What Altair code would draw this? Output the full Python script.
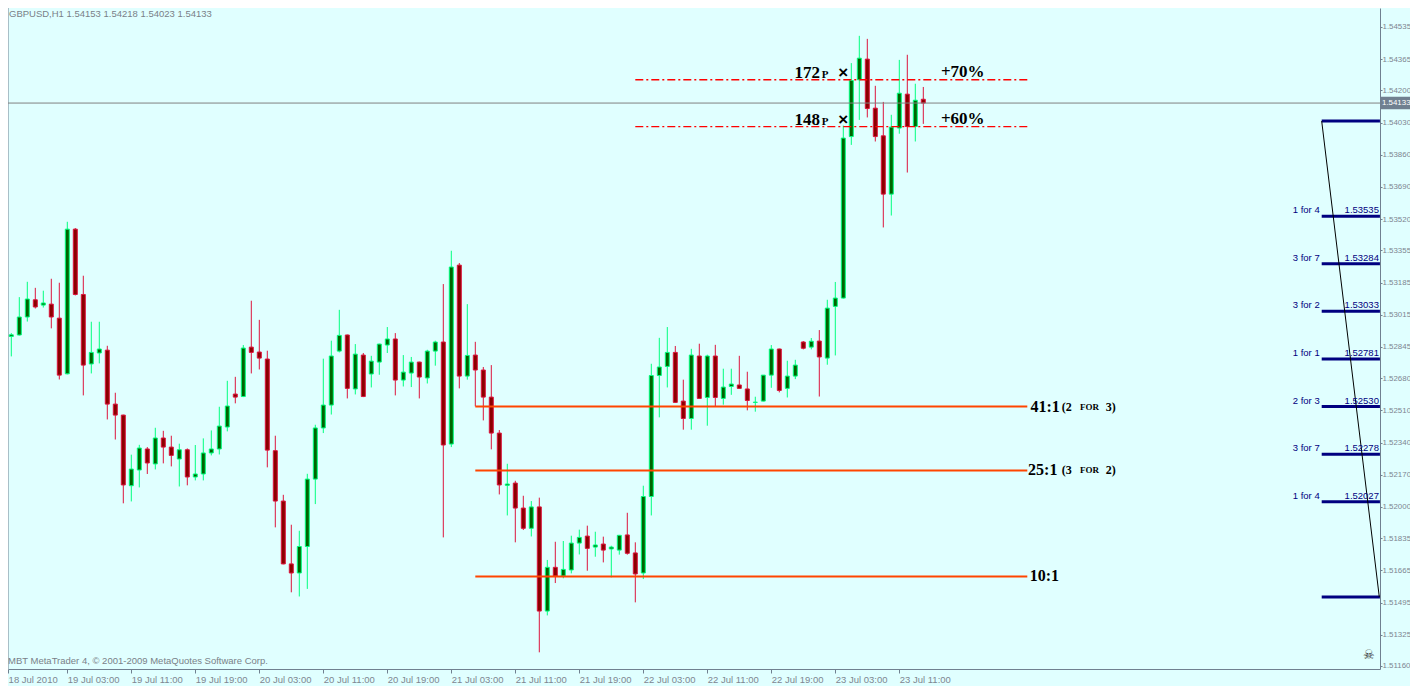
import altair as alt
import pandas as pd

# ---------------- data ----------------
opens = [
    1.53006, 1.52900, 1.52908, 1.53003, 1.53094, 1.53066, 1.53071, 1.52997, 1.52703, 1.53467,
    1.53122, 1.52755, 1.52813, 1.52828, 1.52543, 1.52485, 1.52112, 1.52195, 1.52306, 1.52227,
    1.52364, 1.52316, 1.52253, 1.52302, 1.52158, 1.52174, 1.52285, 1.52306, 1.52422, 1.52596,
    1.52583, 1.52844, 1.52818, 1.52781, 1.52297, 1.52031, 1.51699, 1.51651, 1.51791, 1.52147,
    1.52417, 1.52538, 1.52823, 1.52908, 1.52623, 1.52802, 1.52702, 1.52765, 1.52855, 1.52887,
    1.52670, 1.52707, 1.52765, 1.52681, 1.52823, 1.52871, 1.52332, 1.53277, 1.52691, 1.52802,
    1.52723, 1.52580, 1.52390, 1.52114, 1.52126, 1.51994, 1.51887, 1.52000, 1.51450, 1.51681,
    1.51635, 1.51667, 1.51809, 1.51846, 1.51788, 1.51804, 1.51778, 1.51772, 1.51852, 1.51757,
    1.51651, 1.52055, 1.52694, 1.52742, 1.52816, 1.52559, 1.52467, 1.52797, 1.52578, 1.52797,
    1.52573, 1.52636, 1.52644, 1.52623, 1.52552, 1.52559, 1.52696, 1.52834, 1.52626, 1.52691,
    1.52871, 1.52844, 1.52876, 1.52786, 1.53059, 1.53103, 1.53956, 1.54256, 1.54365, 1.54106,
    1.53960, 1.53652, 1.54001, 1.54180, 1.54009, 1.54153]

highs = [
    1.53103, 1.52918, 1.53108, 1.53189, 1.53157, 1.53142, 1.53205, 1.53184, 1.53506, 1.53473,
    1.53221, 1.52978, 1.52978, 1.52851, 1.52603, 1.52487, 1.52276, 1.52328, 1.52316, 1.52418,
    1.52402, 1.52376, 1.52334, 1.52309, 1.52327, 1.52362, 1.52404, 1.52529, 1.52666, 1.52687,
    1.52855, 1.53089, 1.52988, 1.52825, 1.52376, 1.52064, 1.51906, 1.51874, 1.52175, 1.52434,
    1.52783, 1.52878, 1.53041, 1.52910, 1.52860, 1.52813, 1.52798, 1.52862, 1.52950, 1.52918,
    1.52802, 1.52792, 1.52767, 1.52830, 1.52878, 1.53177, 1.53353, 1.53288, 1.53071, 1.52872,
    1.52739, 1.52749, 1.52406, 1.52228, 1.52138, 1.52059, 1.52031, 1.52049, 1.51720, 1.51816,
    1.51820, 1.51848, 1.51880, 1.51901, 1.51869, 1.51843, 1.51795, 1.51852, 1.51969, 1.51813,
    1.52112, 1.52756, 1.52893, 1.52950, 1.52850, 1.52672, 1.52835, 1.52862, 1.52804, 1.52856,
    1.52730, 1.52730, 1.52798, 1.52714, 1.52582, 1.52696, 1.52855, 1.52836, 1.52772, 1.52777,
    1.52876, 1.52892, 1.52934, 1.53094, 1.53188, 1.54014, 1.54344, 1.54488, 1.54472, 1.54224,
    1.54139, 1.54071, 1.54361, 1.54388, 1.54235, 1.54218]

lows = [
    1.52883, 1.52795, 1.52905, 1.52979, 1.53048, 1.53053, 1.52943, 1.52673, 1.52700, 1.53117,
    1.52589, 1.52705, 1.52758, 1.52462, 1.52356, 1.52019, 1.52029, 1.52103, 1.52174, 1.52198,
    1.52230, 1.52214, 1.52108, 1.52114, 1.52140, 1.52140, 1.52272, 1.52277, 1.52399, 1.52547,
    1.52580, 1.52705, 1.52726, 1.52209, 1.51892, 1.51697, 1.51549, 1.51527, 1.51567, 1.52015,
    1.52390, 1.52488, 1.52816, 1.52573, 1.52594, 1.52580, 1.52631, 1.52698, 1.52813, 1.52589,
    1.52636, 1.52633, 1.52573, 1.52652, 1.52746, 1.51839, 1.52316, 1.52626, 1.52672, 1.52531,
    1.52457, 1.52304, 1.52066, 1.51955, 1.51813, 1.51878, 1.51844, 1.51232, 1.51427, 1.51598,
    1.51623, 1.51649, 1.51749, 1.51663, 1.51737, 1.51707, 1.51628, 1.51748, 1.51748, 1.51496,
    1.51619, 1.51955, 1.52473, 1.52631, 1.52550, 1.52408, 1.52408, 1.52571, 1.52429, 1.52531,
    1.52540, 1.52592, 1.52624, 1.52510, 1.52503, 1.52557, 1.52629, 1.52605, 1.52578, 1.52675,
    1.52832, 1.52832, 1.52583, 1.52751, 1.52800, 1.53100, 1.53912, 1.54044, 1.54057, 1.53930,
    1.53476, 1.53539, 1.53971, 1.53766, 1.53930, 1.54023]

closes = [
    1.52909, 1.52909, 1.53003, 1.53098, 1.53056, 1.53077, 1.53003, 1.52696, 1.53467, 1.53122,
    1.52749, 1.52816, 1.52834, 1.52543, 1.52485, 1.52116, 1.52200, 1.52311, 1.52232, 1.52364,
    1.52316, 1.52272, 1.52302, 1.52158, 1.52174, 1.52285, 1.52306, 1.52427, 1.52533, 1.52580,
    1.52839, 1.52816, 1.52786, 1.52300, 1.52031, 1.51699, 1.51651, 1.51791, 1.52147, 1.52417,
    1.52538, 1.52797, 1.52906, 1.52626, 1.52807, 1.52583, 1.52770, 1.52860, 1.52887, 1.52670,
    1.52712, 1.52765, 1.52686, 1.52823, 1.52871, 1.52327, 1.53267, 1.52691, 1.52800, 1.52723,
    1.52580, 1.52390, 1.52116, 1.52121, 1.51994, 1.51887, 1.52000, 1.51450, 1.51681, 1.51635,
    1.51670, 1.51809, 1.51839, 1.51781, 1.51799, 1.51772, 1.51788, 1.51850, 1.51755, 1.51646,
    1.52055, 1.52694, 1.52739, 1.52816, 1.52552, 1.52467, 1.52802, 1.52573, 1.52797, 1.52578,
    1.52633, 1.52649, 1.52626, 1.52562, 1.52553, 1.52696, 1.52834, 1.52615, 1.52691, 1.52749,
    1.52838, 1.52875, 1.52792, 1.53050, 1.53103, 1.53948, 1.54252, 1.54370, 1.54104, 1.53956,
    1.53652, 1.54006, 1.54185, 1.54009, 1.54148, 1.54133]

# x tick positions (bar index) and their labels
xt_vals = [0.6, 8, 16, 24, 32, 40, 48, 56, 64, 72, 80, 88, 96, 104, 112]
xt_labels = ["18 Jul 2010", "19 Jul 03:00", "19 Jul 11:00", "19 Jul 19:00", "20 Jul 03:00",
             "20 Jul 11:00", "20 Jul 19:00", "21 Jul 03:00", "21 Jul 11:00", "21 Jul 19:00",
             "22 Jul 03:00", "22 Jul 11:00", "22 Jul 19:00", "23 Jul 03:00", "23 Jul 11:00"]
# price tick labels on the right
yt_vals = [1.54535, 1.54365, 1.54200, 1.54030, 1.53860, 1.53690, 1.53520, 1.53355, 1.53185,
           1.53015, 1.52845, 1.52680, 1.52510, 1.52340, 1.52170, 1.52000, 1.51835, 1.51665,
           1.51495, 1.51325, 1.51160]

current_price = 1.54133
title_text = "GBPUSD,H1  1.54153 1.54218 1.54023 1.54133"
copyright_text = "MBT MetaTrader 4, \u00a9 2001-2009 MetaQuotes Software Corp."

target_prices = [1.54256, 1.54009]
target_pips = ["172", "148"]
target_pcts = ["+70%", "+60%"]
target_x0, target_x1 = 79, 128

ratio_prices = [1.52530, 1.52193, 1.51633]
ratio_labels = ["41:1", "25:1", "10:1"]
ratio_label_x = [128.4, 128.1, 128.3]
ratio_x0, ratio_x1 = 59, 128
note_prices = [1.52530, 1.52193]
note_open = ["(2", "(3"]
note_close = ["3)", "2)"]

ladder_prices = [1.54038, 1.53535, 1.53284, 1.53033, 1.52781, 1.52530, 1.52278, 1.52027, 1.51524]
ladder_names = ["", "1 for 4", "3 for 7", "3 for 2", "1 for 1", "2 for 3", "3 for 7", "1 for 4", ""]
ladder_vals = ["", "1.53535", "1.53284", "1.53033", "1.52781", "1.52530", "1.52278", "1.52027", ""]
ladder_x0, ladder_x1 = 164.8, 172.08

# ---------------- chart ----------------
W, H = 1372, 661
xs = alt.Scale(domain=[0.5875, 172.0875], nice=False, zero=False, padding=0)
ys = alt.Scale(domain=[1.51144, 1.54635], nice=False, zero=False, padding=0)
AX = "#708090"
LBL = "#7E8691"
SANS = "Liberation Sans"
SERIF = "Liberation Serif"


def X(f):
    return alt.X(f, scale=xs, title=None)


def Y(f):
    return alt.Y(f, scale=ys, title=None)


n = len(opens)
df = pd.DataFrame({"i": list(range(n)), "open": opens, "high": highs,
                   "low": lows, "close": closes})
df["dir"] = ["up" if c >= o else "down" for o, c in zip(opens, closes)]

stroke_sc = alt.Scale(domain=["up", "down"], range=["#00FF7F", "#DC143C"])
fill_sc = alt.Scale(domain=["up", "down"], range=["#006400", "#8B0000"])

label_expr = "[" + ",".join("'" + s + "'" for s in xt_labels) + "][round(datum.value/8)]"

# wick layer carries the axes
wicks = alt.Chart(df).mark_rule(strokeWidth=1, clip=True).encode(
    x=alt.X("i:Q", scale=xs, title=None, axis=alt.Axis(
        values=xt_vals, tickCount=60, labelExpr=label_expr, labelAlign="left",
        labelPadding=1, tickSize=4, grid=False, domainColor=AX, tickColor=AX,
        labelColor=LBL, labelFont=SANS, labelFontSize=9.5, labelOverlap=False,
        labelFlush=False, labelBound=False)),
    y=alt.Y("low:Q", scale=ys, title=None, axis=alt.Axis(
        orient="right", values=yt_vals, tickCount=60, format=".5f", tickSize=2,
        labelPadding=0, grid=False, domainColor=AX, tickColor=AX, labelColor=LBL,
        labelFont=SANS, labelFontSize=7.9, labelOverlap=False, labelFlush=False)),
    y2="high:Q",
    stroke=alt.Stroke("dir:N", scale=stroke_sc, legend=None),
)

bodies = alt.Chart(df).mark_bar(size=4, strokeWidth=1, clip=True).encode(
    x=X("i:Q"), y=Y("open:Q"), y2="close:Q",
    fill=alt.Fill("dir:N", scale=fill_sc, legend=None),
    stroke=alt.Stroke("dir:N", scale=stroke_sc, legend=None),
)

left_border = alt.Chart(pd.DataFrame({"a": [0]})).mark_rule(color=AX, strokeWidth=1).encode(
    x=alt.value(0), y=alt.value(0), y2=alt.value(H))

cur_df = pd.DataFrame({"p": [current_price], "t": [f"{current_price:.5f}"]})
cur_line = alt.Chart(cur_df).mark_rule(color="#808080", strokeWidth=1).encode(y=Y("p:Q"))
cur_box = alt.Chart(cur_df).mark_point(
    shape="M-1,-0.34L1,-0.34L1,0.34L-1,0.34Z", filled=True, opacity=1,
    color="#708090", size=37 * 37).encode(x=alt.value(W + 19.5), y=Y("p:Q"))
cur_txt = alt.Chart(cur_df).mark_text(
    align="left", baseline="middle", font=SANS, fontSize=7.9, color="white").encode(
    x=alt.value(W + 2), y=Y("p:Q"), text="t:N")

tgt_df = pd.DataFrame({"p": target_prices, "pips": target_pips, "pct": target_pcts,
                       "x0": [target_x0] * 2, "x1": [target_x1] * 2,
                       "xn": [102.1] * 2, "xp": [102.3] * 2, "xx": [105.0] * 2,
                       "xc": [117.2] * 2, "P": ["P"] * 2, "X": ["\u00d7"] * 2})
tgt_lines = alt.Chart(tgt_df).mark_rule(color="#FF0000", strokeWidth=1.3,
                                        strokeDash=[8, 3, 2, 3]).encode(
    x=X("x0:Q"), x2="x1:Q", y=Y("p:Q"))
tgt_num = alt.Chart(tgt_df).mark_text(align="right", baseline="alphabetic", dy=-2,
                                      font=SERIF, fontWeight="bold", fontSize=17,
                                      color="black").encode(
    x=X("xn:Q"), y=Y("p:Q"), text="pips:N")
tgt_P = alt.Chart(tgt_df).mark_text(align="left", baseline="alphabetic", dy=-2,
                                    font=SERIF, fontWeight="bold", fontSize=11,
                                    color="black").encode(
    x=X("xp:Q"), y=Y("p:Q"), text="P:N")
tgt_X = alt.Chart(tgt_df).mark_text(align="center", baseline="middle", dy=-7,
                                    font=SANS, fontWeight="bold", fontSize=17,
                                    color="black").encode(
    x=X("xx:Q"), y=Y("p:Q"), text="X:N")
tgt_pct = alt.Chart(tgt_df).mark_text(align="left", baseline="alphabetic", dy=-3,
                                      font=SERIF, fontWeight="bold", fontSize=17,
                                      color="black").encode(
    x=X("xc:Q"), y=Y("p:Q"), text="pct:N")

rat_df = pd.DataFrame({"p": ratio_prices, "lab": ratio_labels, "xl": ratio_label_x,
                       "x0": [ratio_x0] * 3, "x1": [ratio_x1] * 3})
rat_lines = alt.Chart(rat_df).mark_rule(color="#FF4500", strokeWidth=2).encode(
    x=X("x0:Q"), x2="x1:Q", y=Y("p:Q"))
rat_txt = alt.Chart(rat_df).mark_text(align="left", baseline="middle", font=SERIF,
                                      fontWeight="bold", fontSize=16, color="black").encode(
    x=X("xl:Q"), y=Y("p:Q"), text="lab:N")

note_rows = []
for p, a, b in zip(note_prices, note_open, note_close):
    note_rows.append({"p": p, "t": a, "x": 132.3, "s": 12})
    note_rows.append({"p": p, "t": "FOR", "x": 134.6, "s": 9})
    note_rows.append({"p": p, "t": b, "x": 137.8, "s": 12})
note_df = pd.DataFrame(note_rows)
note_txt = alt.Chart(note_df).mark_text(align="left", baseline="middle", font=SERIF,
                                        fontWeight="bold", color="black").encode(
    x=X("x:Q"), y=Y("p:Q"), text="t:N",
    size=alt.Size("s:Q", scale=None, legend=None))

lad_df = pd.DataFrame({"p": ladder_prices, "name": ladder_names, "val": ladder_vals,
                       "x0": [ladder_x0] * len(ladder_prices),
                       "x1": [ladder_x1] * len(ladder_prices)})
lad_lines = alt.Chart(lad_df).mark_rule(color="#000080", strokeWidth=3, clip=True).encode(
    x=X("x0:Q"), x2="x1:Q", y=Y("p:Q"))
lad_name = alt.Chart(lad_df).mark_text(align="right", baseline="alphabetic", dx=-2, dy=-3,
                                       font=SANS, fontSize=9.5, color="#000080").encode(
    x=X("x0:Q"), y=Y("p:Q"), text="name:N")
lad_val = alt.Chart(lad_df).mark_text(align="right", baseline="alphabetic", dx=-1, dy=-3,
                                      font=SANS, fontSize=9.5, color="#000080").encode(
    x=X("x1:Q"), y=Y("p:Q"), text="val:N")
diag_df = pd.DataFrame({"xa": [ladder_x0], "xb": [172.0],
                        "pa": [ladder_prices[0]], "pb": [ladder_prices[-1]]})
diag = alt.Chart(diag_df).mark_rule(color="black", strokeWidth=1).encode(
    x=X("xa:Q"), x2="xb:Q", y=Y("pa:Q"), y2="pb:Q")

skull_df = pd.DataFrame({"x": [170.7], "p": [1.51220], "t": ["\u2620"]})
skull = alt.Chart(skull_df).mark_text(font="DejaVu Sans", fontSize=13, color="#333333",
                                      baseline="middle", align="center").encode(
    x=X("x:Q"), y=Y("p:Q"), text="t:N")

title_df = pd.DataFrame({"t": [title_text]})
title_txt = alt.Chart(title_df).mark_text(align="left", baseline="top", font=SANS,
                                          fontSize=9.5, color="#7A7F88").encode(
    x=alt.value(1), y=alt.value(1), text="t:N")
copy_df = pd.DataFrame({"t": [copyright_text]})
copy_txt = alt.Chart(copy_df).mark_text(align="left", baseline="middle", font=SANS,
                                        fontSize=9.5, color="#7A7F88").encode(
    x=alt.value(0), y=alt.value(H - 8), text="t:N")

chart = alt.layer(
    wicks, bodies, left_border, cur_line, tgt_lines, rat_lines, lad_lines, diag,
    tgt_num, tgt_P, tgt_X, tgt_pct, rat_txt, note_txt, lad_name, lad_val,
    skull, title_txt, copy_txt, cur_box, cur_txt,
).properties(
    width=W, height=H,
    autosize=alt.AutoSizeParams(type="none"),
    padding={"left": 0, "top": 0, "right": 30, "bottom": 17},
    background="#E0FFFF",
).configure_view(stroke=None)

chart.save("out.html", embed_options={"renderer": "svg", "actions": False})
